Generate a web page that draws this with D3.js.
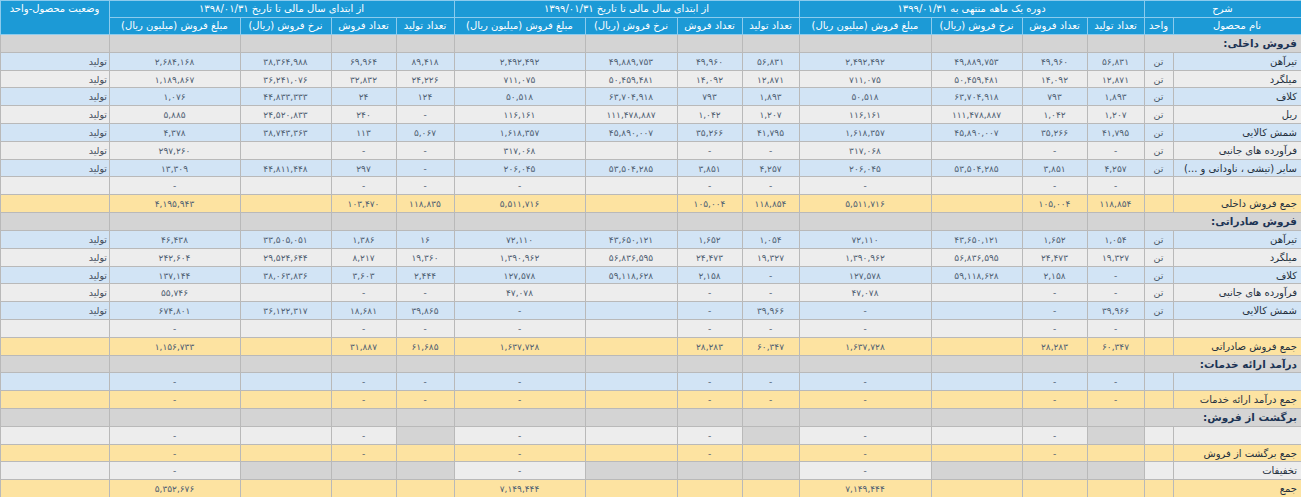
<!DOCTYPE html>
<html lang="fa">
<head>
<meta charset="utf-8">
<script src="https://d3js.org/d3.v7.min.js"></script>
<style>
  body { margin: 0; background: #ffffff; }
  text { font-family: "DejaVu Sans", sans-serif; }
</style>
</head>
<body>
<div id="my_dataviz"></div>
<script>
// table data, one entry per body row (null = blank cell, 0 = "-", NA = disabled cell)
var NA = "na";

var rowLabels = ["فروش داخلی:", "تیرآهن", "میلگرد", "کلاف", "ریل", "شمش کالایی", "فرآورده های جانبی",
  "سایر (تیشی ، ناودانی و ...)", "", "جمع فروش داخلی", "فروش صادراتی:", "تیرآهن", "میلگرد", "کلاف",
  "فرآورده های جانبی", "شمش کالایی", "", "جمع فروش صادراتی", "درآمد ارائه خدمات:", "", "جمع درآمد ارائه خدمات",
  "برگشت از فروش:", "", "جمع برگشت از فروش", "تخفیفات", "جمع"];

var rowTypes = ["section", "item", "item", "item", "item", "item", "item", "item", "item", "total",
  "section", "item", "item", "item", "item", "item", "item", "total", "section", "item", "total",
  "section", "item", "total", "item", "total"];

var rowUnits = ["", "تن", "تن", "تن", "تن", "تن", "تن", "تن", "", "", "", "تن", "تن", "تن", "تن", "تن", "", "",
  "", "", "", "", "", "", "", ""];

var rowStatus = ["", "تولید", "تولید", "تولید", "تولید", "تولید", "تولید", "تولید", "", "", "", "تولید", "تولید",
  "تولید", "تولید", "تولید", "", "", "", "", "", "", "", "", "", ""];

// one-month period ending 1399/01/31
var p1Production = [null, 56831, 12871, 1893, 1207, 41795, 0, 4257, 0, 118854, null, 1054, 19327, 0, 0, 39966, 0, 60347, null, 0, 0, null, NA, null, NA, null];
var p1Sales = [null, 49960, 14092, 793, 1042, 35266, 0, 3851, 0, 105004, null, 1652, 24473, 2158, 0, 0, 0, 28283, null, 0, 0, null, 0, 0, NA, null];
var p1Rate = [null, 49889753, 50459481, 63704918, 111478887, 45890007, null, 53504285, null, null, null, 43650121, 56836595, 59118628, null, null, null, null, null, null, null, null, null, null, NA, null];
var p1Amount = [null, 2492492, 711075, 50518, 116161, 1618357, 317068, 206045, 0, 5511716, null, 72110, 1390962, 127578, 47078, 0, 0, 1637728, null, 0, 0, null, 0, 0, 0, 7149444];

// start of fiscal year to 1399/01/31
var p2Production = [null, 56831, 12871, 1893, 1207, 41795, 0, 4257, 0, 118854, null, 1054, 19327, 0, 0, 39966, 0, 60347, null, 0, 0, null, NA, null, NA, null];
var p2Sales = [null, 49960, 14092, 793, 1042, 35266, 0, 3851, 0, 105004, null, 1652, 24473, 2158, 0, 0, 0, 28283, null, 0, 0, null, 0, 0, NA, null];
var p2Rate = [null, 49889753, 50459481, 63704918, 111478887, 45890007, null, 53504285, null, null, null, 43650121, 56836595, 59118628, null, null, null, null, null, null, null, null, null, null, NA, null];
var p2Amount = [null, 2492492, 711075, 50518, 116161, 1618357, 317068, 206045, 0, 5511716, null, 72110, 1390962, 127578, 47078, 0, 0, 1637728, null, 0, 0, null, 0, 0, 0, 7149444];

// start of fiscal year to 1398/01/31
var p3Production = [null, 89418, 24226, 124, 0, 5067, 0, 0, 0, 118835, null, 16, 19360, 2444, 0, 39865, 0, 61685, null, 0, 0, null, NA, null, NA, null];
var p3Sales = [null, 69964, 32832, 24, 240, 113, 0, 297, 0, 103470, null, 1386, 8217, 3603, 0, 18681, 0, 31887, null, 0, 0, null, 0, 0, NA, null];
var p3Rate = [null, 38364988, 36241076, 44833333, 24520833, 38743363, null, 44811448, null, null, null, 33505051, 29524644, 38063836, null, 36122317, null, null, null, null, null, null, null, null, NA, null];
var p3Amount = [null, 2684168, 1189867, 1076, 5885, 4378, 297260, 13309, 0, 4195943, null, 46438, 242604, 137144, 55746, 674801, 0, 1156733, null, 0, 0, null, 0, 0, 0, 5352676];

var groupTitles = ["دوره یک ماهه منتهی به ۱۳۹۹/۰۱/۳۱", "از ابتدای سال مالی تا تاریخ ۱۳۹۹/۰۱/۳۱", "از ابتدای سال مالی تا تاریخ ۱۳۹۸/۰۱/۳۱"];
var measureTitles = ["تعداد تولید", "تعداد فروش", "نرخ فروش (ریال)", "مبلغ فروش (میلیون ریال)"];

// layout
var width = 1301, height = 497;
var headH = 17;
var colKeys = ["status", "p3Amount", "p3Rate", "p3Sales", "p3Production", "p2Amount", "p2Rate", "p2Sales", "p2Production",
  "p1Amount", "p1Rate", "p1Sales", "p1Production", "unit", "name"];
var colEdges = [0, 109, 240, 331, 396, 454, 585, 677, 742, 799, 931, 1022, 1087, 1144, 1173, 1301];
var colData = {
  p1Production: p1Production, p1Sales: p1Sales, p1Rate: p1Rate, p1Amount: p1Amount,
  p2Production: p2Production, p2Sales: p2Sales, p2Rate: p2Rate, p2Amount: p2Amount,
  p3Production: p3Production, p3Sales: p3Sales, p3Rate: p3Rate, p3Amount: p3Amount
};

var x0 = d3.scaleOrdinal().domain(colKeys).range(colEdges.slice(0, -1));
var x1 = d3.scaleOrdinal().domain(colKeys).range(colEdges.slice(1));

var y = d3.scaleBand()
  .domain(d3.range(rowLabels.length))
  .range([headH * 2, height])
  .paddingInner(0).paddingOuter(0);
var yTop = function(i) { return Math.round(y(i)); };
var yBot = function(i) { return Math.round(y(i) + y.bandwidth()); };

var fill = { section: "#d4d4d4", total: "#fde3a1", blue: "#d2e4f5", grey: "#ededed", off: "#d4d4d4" };
var lineColor = "#b9b9b9";
var headBlue = "#1c9ad6";

// persian digits
var fmt = d3.format(",");
var fa = function(s) { return String(s).replace(/[0-9]/g, function(c) { return "۰۱۲۳۴۵۶۷۸۹"[+c]; }); };

var svg = d3.select("#my_dataviz")
  .append("svg")
  .attr("width", width)
  .attr("height", height);

// row background colour: plain rows alternate by row index
var shade = rowTypes.map(function(t, i) {
  if (t === "section") return fill.section;
  if (t === "total") return fill.total;
  return i % 2 === 1 ? fill.blue : fill.grey;
});

// body cells
var rows = svg.append("g").selectAll("g")
  .data(d3.range(rowLabels.length))
  .enter().append("g");

rows.each(function(i) {
  var g = d3.select(this);
  var type = rowTypes[i];
  colKeys.forEach(function(key) {
    if (type === "section" && key === "unit") return;
    var left = x0(key), right = x1(key);
    if (type === "section" && key === "name") left = x0("unit");
    var v = colData[key] ? colData[key][i] : null;
    g.append("rect")
      .attr("x", left + 0.5)
      .attr("y", yTop(i) + 0.5)
      .attr("width", right - left)
      .attr("height", yBot(i) - yTop(i))
      .style("fill", v === NA ? fill.off : shade[i])
      .style("stroke", lineColor)
      .style("stroke-width", 1);

    var cy = (yTop(i) + yBot(i)) / 2 + 4;
    if (key === "name" && rowLabels[i]) {
      g.append("text")
        .attr("x", right - 4).attr("y", cy)
        .attr("text-anchor", "start").attr("direction", "rtl")
        .style("font-size", type === "section" ? "10.5px" : "10px")
        .style("font-weight", type === "section" ? "bold" : "normal")
        .style("fill", type === "section" ? "#1d3454" : "#24303e")
        .text(rowLabels[i]);
    } else if (key === "unit" && rowUnits[i]) {
      g.append("text")
        .attr("x", (left + right) / 2).attr("y", cy)
        .attr("text-anchor", "middle")
        .style("font-size", "9.5px").style("fill", "#4a5868")
        .text(rowUnits[i]);
    } else if (key === "status" && rowStatus[i]) {
      g.append("text")
        .attr("x", right - 2).attr("y", cy)
        .attr("text-anchor", "start").attr("direction", "rtl")
        .style("font-size", "9.5px").style("fill", "#3e4a58")
        .text(rowStatus[i]);
    } else if (colData[key] && v !== null && v !== NA) {
      g.append("text")
        .attr("x", (left + right) / 2).attr("y", cy)
        .attr("text-anchor", "middle")
        .style("font-size", "9px").style("fill", "#4f6072")
        .text(v === 0 ? "-" : fa(fmt(v)));
    }
  });
});

// header
var head = svg.append("g");
var headCell = function(left, right, top, bottom, label) {
  head.append("rect")
    .attr("x", left + 0.5).attr("y", top + 0.5)
    .attr("width", right - left).attr("height", bottom - top)
    .style("fill", headBlue).style("stroke", "#8ccbed").style("stroke-width", 1);
  head.append("text")
    .attr("x", (left + right) / 2).attr("y", top + 12)
    .attr("text-anchor", "middle").attr("direction", "rtl")
    .style("font-size", "10px").style("fill", "#ffffff")
    .text(label);
};

headCell(x0("unit"), x1("name"), 0, headH, "شرح");
headCell(x0("name"), x1("name"), headH, headH * 2, "نام محصول");
headCell(x0("unit"), x1("unit"), headH, headH * 2, "واحد");
headCell(x0("status"), x1("status"), 0, headH * 2, "وضعیت محصول-واحد");

var groups = [["p1Production", "p1Sales", "p1Rate", "p1Amount"],
              ["p2Production", "p2Sales", "p2Rate", "p2Amount"],
              ["p3Production", "p3Sales", "p3Rate", "p3Amount"]];
groups.forEach(function(keys, gi) {
  headCell(x0(keys[3]), x1(keys[0]), 0, headH, groupTitles[gi]);
  keys.forEach(function(key, mi) {
    headCell(x0(key), x1(key), headH, headH * 2, measureTitles[mi]);
  });
});
</script>
</body>
</html>
